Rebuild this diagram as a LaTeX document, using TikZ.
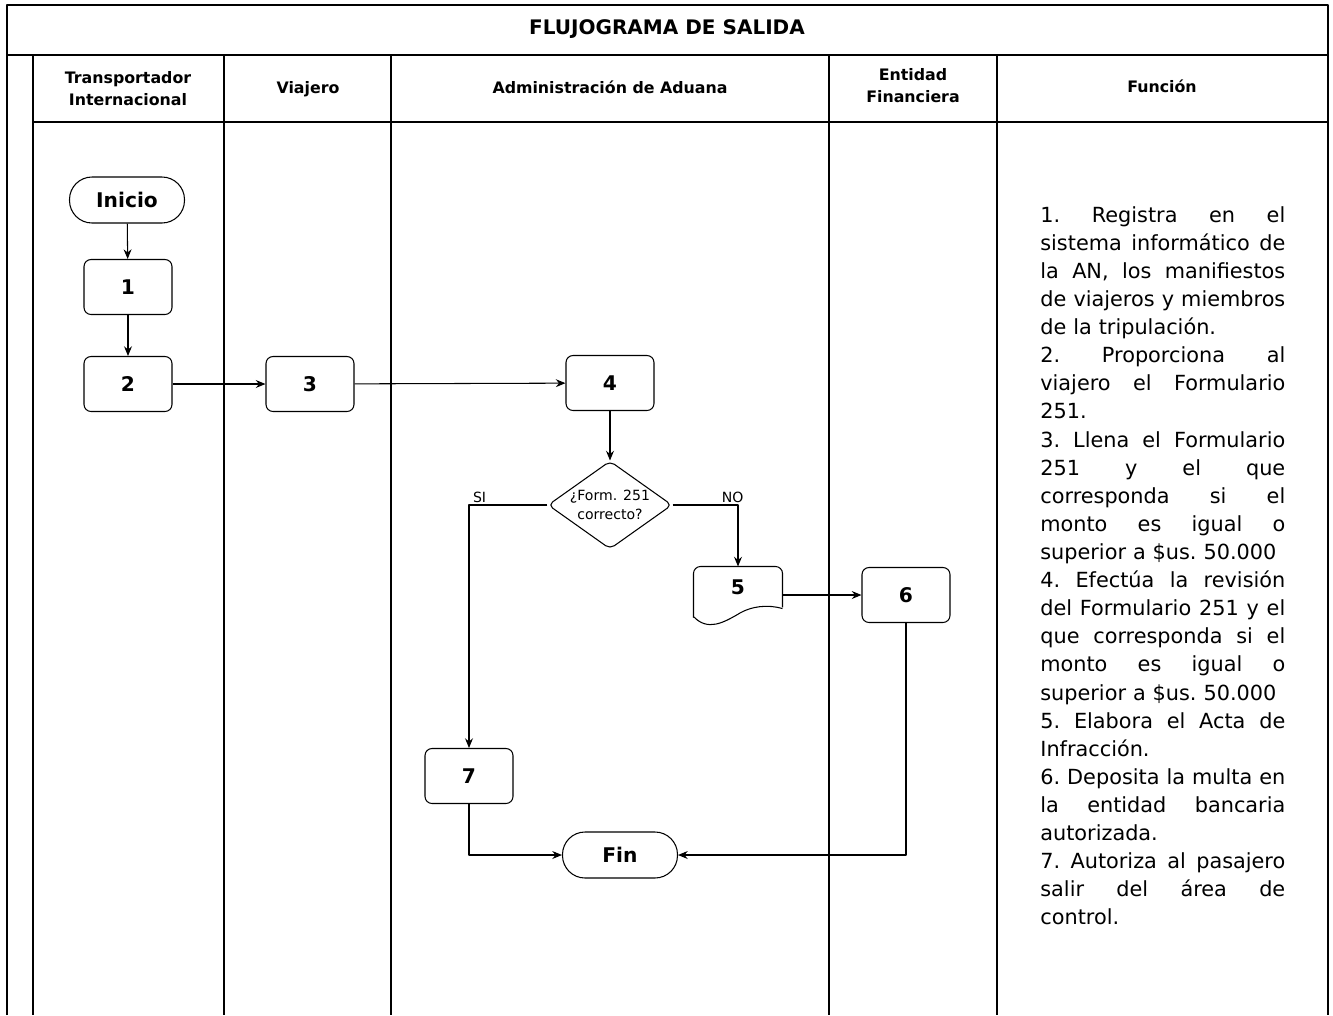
\documentclass[tikz,border=0pt]{standalone}
\usepackage{fontspec}
\setmainfont{DejaVu Sans}
\usetikzlibrary{shapes.geometric,arrows.meta}
\newcommand{\jl}[1]{\leavevmode\hbox to 4.9cm{\spaceskip=0.32em plus 1fil\relax #1}}
\begin{document}
\begin{tikzpicture}[x=0.02cm,y=-0.02cm,line join=round,>={Stealth[length=5.5pt,width=4.5pt]},
	caja/.style={draw,line width=0.6pt,rounded corners=4pt,minimum width=1.76cm,minimum height=1.1cm,inner sep=0pt,font=\fontsize{11.5}{13}\selectfont\bfseries},
	term/.style={caja,rounded corners=0.45cm,minimum width=2.3cm,minimum height=0.92cm},
	deci/.style={draw,diamond,line width=0.6pt,rounded corners=3pt,aspect=1.41,inner sep=0pt,minimum width=2.48cm,minimum height=1.76cm,align=center,font=\fontsize{8}{10.8}\selectfont},
	cab/.style={align=center,font=\fontsize{9}{12.5}\selectfont\bfseries},
	rot/.style={font=\fontsize{8}{10}\selectfont,inner sep=1pt},
	flecha/.style={->,line width=0.6pt},
	marco/.style={line width=0.7pt}]
	
	\useasboundingbox (0,0) rectangle (1333,1015);
	% cuadro y carriles
	\draw[marco] (7,1015)--(7,5)--(1328,5)--(1328,1015);
	\draw[marco] (7,55)--(1328,55) (33,122)--(1328,122);
	\foreach \x in {33,224,391,829,997}
		\draw[marco] (\x,55)--(\x,1015);
	
	\node[cab,font=\fontsize{11.4}{13}\selectfont\bfseries] (tit) at (667,29) {FLUJOGRAMA DE SALIDA};
	\node[cab] (c1) at (128,89) {Transportador\\Internacional};
	\node[cab] (c2) at (308,89) {Viajero};
	\node[cab] (c3) at (610,87) {Administración de Aduana};
	\node[cab] (c4) at (913,86) {Entidad\\Financiera};
	\node[cab] (c5) at (1162,86) {Función};
	
	% pasos
	\node[term] (ini) at (127,200) {Inicio};
	\node[caja] (p1) at (128,287) {1};
	\node[caja] (p2) at (128,384) {2};
	\node[caja] (p3) at (310,384) {3};
	\node[caja] (p4) at (610,383) {4};
	\node[deci] (dec) at (610,505) {¿Form. 251\\correcto?};
	\node[caja,draw=none,minimum height=0.8cm] (p5) at (738,587) {5};
	\draw[line width=0.6pt,rounded corners=4pt] (p5.south west) ++(0,10)
		-- (p5.north west) -- (p5.north east) -- ++(0,41);
	\draw[line width=0.6pt] (p5.south west) ++(0,9)
		.. controls +(14,15) and +(-14,8) .. ++(44,-2)
		.. controls +(14,-9) and +(-14,-4) .. ++(45,-6);
	\node[caja] (p6) at (906,595) {6};
	\node[caja] (p7) at (469,776) {7};
	\node[term] (fin) at (620,855) {Fin};
	
	% conectores
	\draw[flecha] (ini)--(p1);
	\draw[flecha] (p1)--(p2);
	\draw[flecha] (p2)--(p3);
	\draw[flecha] (p3)--(p4);
	\draw[flecha] (p4)--(dec);
	\draw[flecha] (dec.west) -| node[rot,pos=0.5,anchor=south west,xshift=1pt] {SI} (p7);
	\draw[flecha] (dec.east) -| node[rot,pos=0.5,anchor=south,xshift=-3pt] {NO} (p5);
	\draw[flecha] (p6.west -| p5.east) -- (p6.west);
	\draw[flecha] (p6.south) |- (fin.east);
	\draw[flecha] (p7.south) |- (fin.west);
	
	% funciones
	\node[anchor=north west,inner sep=0pt,text width=4.9cm,align=left,font=\fontsize{11.85}{16}\selectfont\frenchspacing] (fun) at (1040,206) {%
		\jl{1. Registra en el}\\
		\jl{sistema informático de}\\
		\jl{la AN, los manifiestos}\\
		\jl{de viajeros y miembros}\\
		de la tripulación.\\
		\jl{2. Proporciona al}\\
		\jl{viajero el Formulario}\\
		251.\\
		\jl{3. Llena el Formulario}\\
		\jl{251 y el que}\\
		\jl{corresponda si el}\\
		\jl{monto es igual o}\\
		superior a \$us. 50.000\\
		\jl{4. Efectúa la revisión}\\
		\jl{del Formulario 251 y el}\\
		\jl{que corresponda si el}\\
		\jl{monto es igual o}\\
		superior a \$us. 50.000\\
		\jl{5. Elabora el Acta de}\\
		Infracción.\\
		\jl{6. Deposita la multa en}\\
		\jl{la entidad bancaria}\\
		autorizada.\\
		\jl{7. Autoriza al pasajero}\\
		\jl{salir del área de}\\
		control.};
\end{tikzpicture}
\end{document}
